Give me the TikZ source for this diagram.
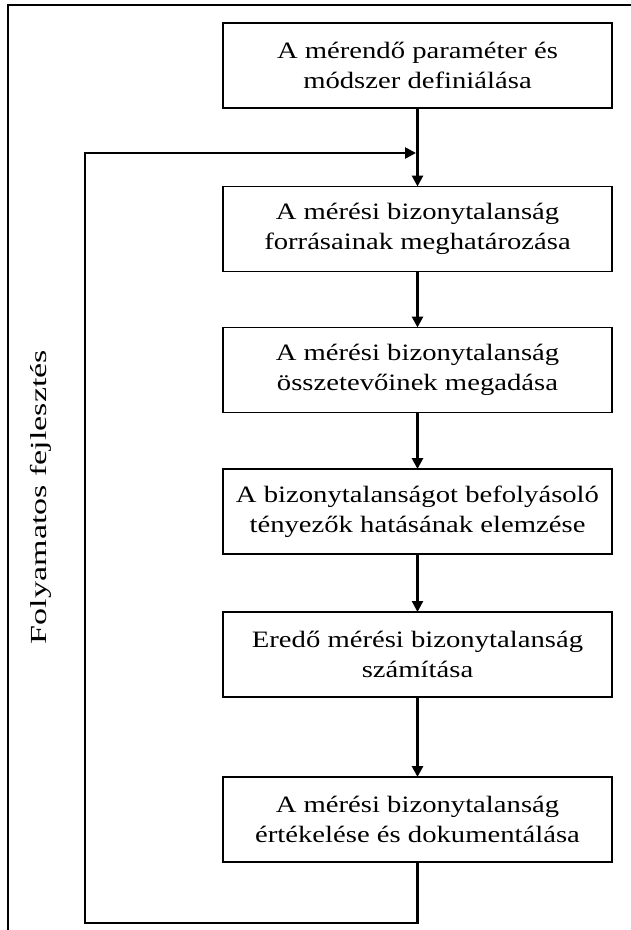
\documentclass[tikz,border=0pt]{standalone}
\usepackage{fontspec}
\setmainfont[FakeStretch=1.22]{Liberation Serif}
\newfontfamily\cimkefont[FakeStretch=1.48]{Liberation Serif}
\usetikzlibrary{arrows.meta}

\begin{document}
\begin{tikzpicture}[x=1pt, y=-1pt,
  every node/.style={outer sep=0pt, inner sep=0pt},
  lepes/.style={draw, line width=1.5pt, minimum width=389pt, minimum height=85pt,
    align=center, font=\fontsize{23.5}{30}\selectfont},
  nyil/.style={line width=3pt, -{Triangle[length=11pt, width=11pt]}},
  visszacsatolas/.style={line width=2.6pt}]
\useasboundingbox (0,0) rectangle (630,930);

% keret
\draw[line width=2.4pt] (632,5) -- (8,5) -- (8,932);

\node[lepes] (p1) at (417.5,65.5) {A mérendő paraméter és\\módszer definiálása};
\node[lepes] (p2) at (417.5,229) {A mérési bizonytalanság\\forrásainak meghatározása};
\node[lepes] (p3) at (417.5,370) {A mérési bizonytalanság\\összetevőinek megadása};
\node[lepes] (p4) at (417.5,511.5) {A bizonytalanságot befolyásoló\\tényezők hatásának elemzése};
\node[lepes] (p5) at (417.5,654.5) {Eredő mérési bizonytalanság\\számítása};
\node[lepes] (p6) at (417.5,819.5) {A mérési bizonytalanság\\értékelése és dokumentálása};

\draw[nyil] (p1) -- (p2);
\draw[nyil] (p2) -- (p3);
\draw[nyil] (p3) -- (p4);
\draw[nyil, line width=2.2pt] (p4) -- (p5);
\draw[nyil] (p5) -- (p6);

% folyamatos fejlesztes
\coordinate (v1) at (417.5,923);
\coordinate (v2) at (85,923);
\coordinate (v3) at (85,153);
\coordinate (v4) at (416,153);
\draw[visszacsatolas, line join=miter] (p6.south) -- (v1) -- (v2) -- (v3) -- (412,153);
\draw[visszacsatolas, -{Triangle[length=11pt, width=11pt]}] (380,153) -- (v4);
\node[rotate=90, font=\cimkefont\fontsize{23}{28}\selectfont] (cimke) at (41,497) {Folyamatos fejlesztés};
\end{tikzpicture}
\end{document}
